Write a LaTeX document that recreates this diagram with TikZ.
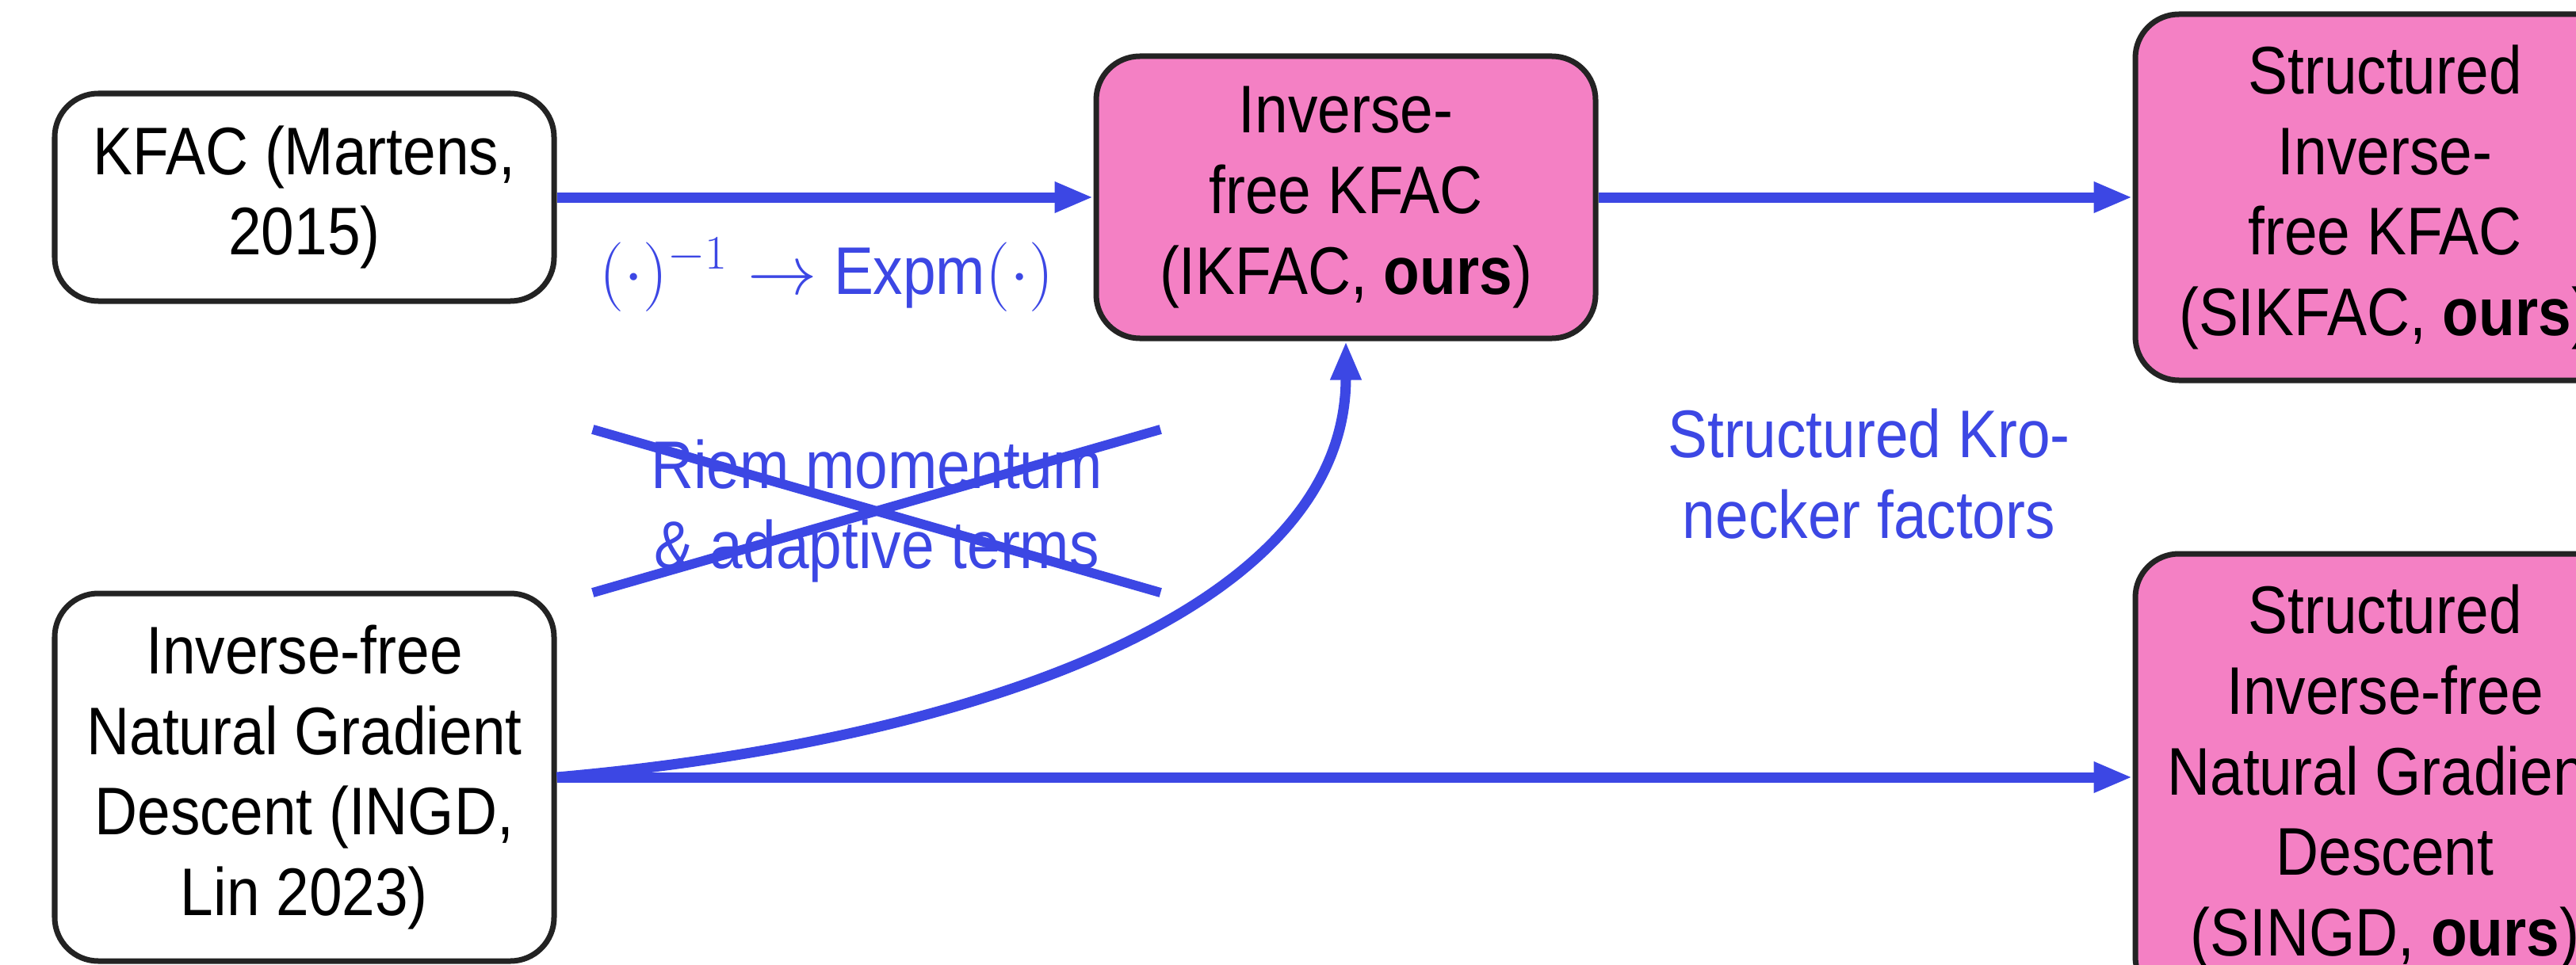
\documentclass[tikz,border=0pt]{standalone}
\usepackage{fontspec}
\setmainfont{Liberation Sans}[FakeStretch=0.88]
\usepackage{tikz}
\usetikzlibrary{arrows.meta,positioning}
\definecolor{edgeblue}{RGB}{60,71,228}
\definecolor{ourspink}{RGB}{244,128,196}
\definecolor{boxline}{RGB}{35,35,35}
\tikzset{
method_box/.style={rectangle, rounded corners=0.55cm, draw=boxline, line width=0.07cm, fill=white, text=black, align=center, minimum width=6.3cm, font=\fontsize{24.2}{29}\selectfont},
ours_box/.style={method_box, fill=ourspink},
flow/.style={draw=edgeblue, line width=0.13cm, -{Stealth[length=0.49cm,width=0.36cm,inset=0pt]}},
remark/.style={text=edgeblue, align=center, font=\fontsize{24.2}{29}\selectfont},
strike/.style={draw=edgeblue, line width=0.12cm}
}

\begin{document}
\begin{tikzpicture}
    \useasboundingbox (0,0) rectangle (32.5,12.17);
    % methods
    \node[method_box, minimum height=2.62cm] (kfac) at (3.84,9.68) {KFAC (Martens,\\2015)};
    \node[ours_box, minimum height=3.56cm] (ikfac) [right=6.77cm of kfac] {Inverse-\\free KFAC\\(IKFAC, \textbf{ours})};
    \node[ours_box, minimum height=4.62cm] (sikfac) [right=6.74cm of ikfac] {Structured\\Inverse-\\free KFAC\\(SIKFAC, \textbf{ours})};
    \node[method_box, minimum height=4.64cm] (ingd) at (3.84,2.36) {Inverse-free\\Natural Gradient\\Descent (INGD,\\Lin 2023)};
    \node[ours_box, minimum height=5.64cm] (singd) at (sikfac |- ingd) {Structured\\Inverse-free\\Natural Gradient\\Descent\\(SINGD, \textbf{ours})};
    % links
    \draw[flow] (kfac) -- (ikfac);
    \draw[flow] (ikfac) -- (sikfac);
    \draw[flow] (ingd) -- (singd);
    \draw[flow] (ingd.east) .. controls +(5:5) and +(0,-3.5) .. (ikfac.south);
    % notes
    \node[remark, anchor=base] (expm) at (10.43,8.46) {$(\cdot)^{-1}\rightarrow$ Expm$(\cdot)$};
    \node[remark, minimum width=7.15cm, minimum height=1.97cm] (riem) at (11.06,5.72) {Riem momentum\\\& adaptive terms};
    \draw[strike] (riem.north west) -- (riem.south east);
    \draw[strike] (riem.south west) -- (riem.north east);
    \node[remark] (kron) at (23.58,6.19) {Structured Kro-\\necker factors};
\end{tikzpicture}
\end{document}
